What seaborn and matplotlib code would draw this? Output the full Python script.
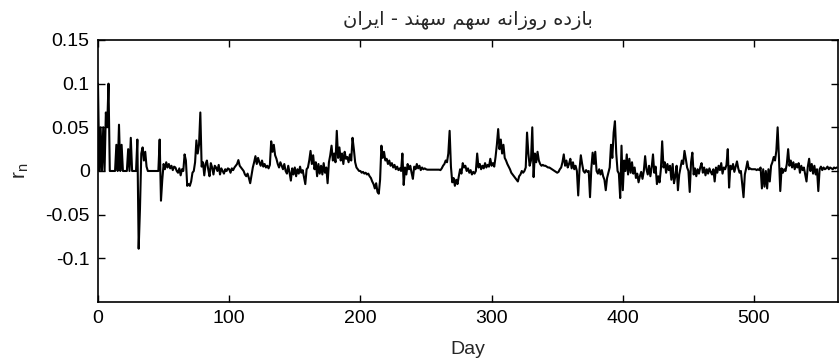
import numpy as np
import pandas as pd
import seaborn as sns
import matplotlib
matplotlib.use("Agg")
import matplotlib.pyplot as plt

# daily returns r_n, 10 days per row
r_000_099 = [
    0.1, 0.0, 0.05, 0.0, 0.05, 0.0, 0.067, 0.05, 0.1, 0.0,
    0.0, 0.0, 0.0, 0.0, 0.03, 0.0, 0.053, 0.0, 0.03, 0.0,
    0.0, 0.0, 0.0, 0.025, 0.0, 0.038, 0.0, 0.0, 0.0, 0.0,
    0.036, -0.089, -0.043, 0.02, 0.027, 0.012, 0.022, 0.005, 0.0, 0.0,
    0.0, 0.0, 0.0, 0.0, 0.0, 0.0, 0.0, 0.036, -0.034, -0.01,
    0.008, 0.002, 0.01, 0.004, 0.008, 0.003, 0.006, 0.001, 0.005, 0.004,
    0.0, -0.002, 0.003, -0.005, 0.002, 0.0, 0.019, 0.012, -0.017, -0.015,
    -0.017, -0.012, -0.002, 0.0, 0.01, 0.035, 0.02, 0.03, 0.067, 0.005,
    0.01, -0.005, 0.008, 0.012, 0.002, -0.006, 0.009, 0.004, -0.004, 0.006,
    0.004, 0.0, 0.007, -0.004, 0.003, 0.0, -0.003, 0.002, 0.0, 0.003,
]
r_100_199 = [
    0.002, -0.002, 0.003, 0.001, 0.004, 0.006, 0.008, 0.0125, 0.006, 0.004,
    0.002, 0.0, -0.004, -0.006, -0.003, -0.008, -0.014, -0.005, 0.004, 0.01,
    0.017, 0.008, 0.015, 0.01, 0.006, 0.012, 0.005, 0.008, 0.004, 0.006,
    0.003, 0.007, 0.034, 0.022, 0.03, 0.018, 0.014, 0.008, 0.004, 0.01,
    0.006, 0.002, 0.008, 0.0, -0.003, 0.006, -0.002, -0.011, 0.003, -0.004,
    0.004, -0.006, 0.002, -0.003, 0.005, -0.002, 0.001, -0.007, -0.015, 0.002,
    0.004, 0.012, 0.023, 0.008, 0.018, 0.002, 0.01, -0.006, 0.008, -0.003,
    0.006, -0.004, 0.009, -0.002, 0.004, -0.014, 0.01, 0.018, 0.029, 0.012,
    0.02, 0.01, 0.046, 0.015, 0.027, 0.012, 0.02, 0.008, 0.022, 0.014,
    0.016, 0.01, 0.019, 0.012, 0.038, 0.025, 0.01, 0.004, 0.002, 0.0,
]
r_200_299 = [
    0.0, -0.002, -0.001, -0.003, -0.002, -0.004, -0.003, -0.006, -0.008, -0.012,
    -0.015, -0.02, -0.014, -0.024, -0.026, -0.01, 0.029, 0.015, 0.022, 0.012,
    0.014, 0.008, 0.012, 0.006, 0.009, 0.004, 0.007, 0.002, 0.005, 0.001,
    0.003, 0.0, 0.02, -0.016, 0.004, -0.004, 0.008, 0.002, 0.006, -0.002,
    -0.009, 0.005, 0.002, 0.008, 0.003, 0.006, 0.001, 0.004, 0.002, 0.003,
    0.002, 0.0015, 0.0015, 0.0015, 0.0015, 0.0015, 0.0015, 0.0015, 0.0015, 0.0015,
    0.0015, 0.001, 0.003, 0.006, 0.008, 0.012, 0.01, 0.02, 0.046, 0.005,
    -0.013, -0.008, -0.017, -0.01, -0.015, -0.006, 0.002, -0.003, 0.009, 0.004,
    0.006, 0.0, 0.003, -0.002, 0.001, -0.004, -0.001, -0.003, 0.0, 0.02,
    0.004, 0.008, 0.002, 0.006, 0.003, 0.009, 0.004, 0.007, 0.005, 0.014,
]
r_300_399 = [
    0.006, 0.009, 0.005, 0.016, 0.03, 0.048, 0.025, 0.036, 0.02, 0.03,
    0.015, 0.012, 0.008, 0.005, 0.002, -0.002, -0.004, -0.006, -0.008, -0.01,
    -0.012, -0.006, -0.004, 0.0, -0.002, 0.0, 0.004, 0.044, 0.02, 0.006,
    0.012, 0.05, -0.007, 0.02, 0.01, 0.022, 0.012, 0.008, 0.006, 0.007,
    0.006, 0.006, 0.005, 0.004, 0.004, 0.003, 0.002, 0.001, 0.0, -0.001,
    -0.002, -0.001, 0.002, 0.004, 0.01, 0.019, 0.006, 0.012, 0.004, 0.008,
    0.014, 0.003, 0.01, 0.002, 0.006, 0.0, -0.028, 0.002, 0.018, 0.008,
    0.0, -0.002, 0.001, -0.001, 0.0, -0.03, 0.003, 0.021, 0.008, 0.022,
    0.0, -0.003, 0.002, -0.004, 0.001, -0.006, -0.01, -0.022, -0.008, -0.002,
    0.004, 0.03, 0.015, 0.044, 0.057, 0.02, 0.0, -0.003, -0.031, 0.029,
]
r_400_499 = [
    -0.022, 0.012, 0.0, 0.019, -0.004, 0.014, -0.002, 0.01, -0.003, 0.004,
    -0.008, -0.003, -0.013, -0.006, -0.001, -0.009, 0.0, 0.017, 0.002, -0.004,
    0.006, -0.006, 0.004, 0.019, -0.002, 0.005, -0.015, -0.006, -0.013, 0.002,
    0.034, 0.004, 0.01, -0.002, 0.008, 0.001, 0.006, -0.01, 0.008, -0.014,
    -0.006, 0.006, -0.022, -0.004, 0.004, 0.012, 0.008, 0.023, 0.014, 0.004,
    0.0, -0.024, 0.01, 0.021, -0.004, 0.003, -0.006, 0.002, -0.003, 0.004,
    0.009, -0.002, 0.004, -0.005, 0.002, -0.003, 0.003, -0.001, -0.004, 0.002,
    -0.012, 0.004, -0.002, 0.006, 0.001, 0.009, -0.003, 0.004, 0.002, 0.007,
    0.025, -0.019, 0.006, 0.002, 0.008, -0.001, 0.005, 0.011, 0.003, -0.002,
    0.0, -0.015, -0.03, -0.004, 0.003, 0.011, 0.002, 0.003, 0.002, 0.002,
]
r_500_563 = [
    0.002, 0.002, 0.001, 0.002, 0.001, 0.004, -0.02, 0.002, -0.018, 0.0,
    -0.02, 0.002, -0.012, 0.006, 0.01, 0.016, 0.012, 0.023, 0.05, 0.015,
    -0.023, 0.003, -0.002, 0.002, 0.0, 0.008, 0.025, 0.006, 0.012, 0.004,
    0.01, 0.002, 0.008, 0.004, 0.009, -0.002, 0.006, 0.001, 0.004, -0.004,
    -0.012, 0.005, 0.014, 0.0, 0.008, -0.003, 0.006, -0.004, 0.002, -0.023,
    0.002, 0.005, 0.001, 0.004, 0.002, 0.003, 0.005, 0.002, 0.004, 0.003,
    0.002, 0.004, 0.003, 0.004,
]

y_ticks = [-0.1, -0.05, 0, 0.05, 0.1, 0.15]
x_ticks = [0, 100, 200, 300, 400, 500]
title_fa = "بازده روزانه سهم سهند - ایران"

returns = r_000_099 + r_100_199 + r_200_299 + r_300_399 + r_400_499 + r_500_563
df = pd.DataFrame({"Day": np.arange(len(returns)), "rn": returns})

# matplotlib has no arabic shaping, so pick the joined forms by hand
FORMS = {  # iso, fin, ini, med
    "ب": ("\ufe8f", "\ufe90", "\ufe91", "\ufe92"),
    "ه": ("\ufee9", "\ufeea", "\ufeeb", "\ufeec"),
    "ن": ("\ufee5", "\ufee6", "\ufee7", "\ufee8"),
    "س": ("\ufeb1", "\ufeb2", "\ufeb3", "\ufeb4"),
    "م": ("\ufee1", "\ufee2", "\ufee3", "\ufee4"),
    "ی": ("\ufbfc", "\ufbfd", "\ufbfe", "\ufbff"),
    "ا": ("\ufe8d", "\ufe8e"),
    "ز": ("\ufeaf", "\ufeb0"),
    "د": ("\ufea9", "\ufeaa"),
    "ر": ("\ufead", "\ufeae"),
    "و": ("\ufeed", "\ufeee"),
}


def shape_fa(text):
    out = []
    for i, ch in enumerate(text):
        if ch not in FORMS:
            out.append(ch)
            continue
        prev = text[i - 1] if i > 0 else ""
        nxt = text[i + 1] if i + 1 < len(text) else ""
        join_prev = prev in FORMS and len(FORMS[prev]) == 4
        join_next = len(FORMS[ch]) == 4 and nxt in FORMS
        if join_prev and join_next:
            out.append(FORMS[ch][3])
        elif join_prev:
            out.append(FORMS[ch][1])
        elif join_next:
            out.append(FORMS[ch][2])
        else:
            out.append(FORMS[ch][0])
    return "".join(out)[::-1]


sns.set_style("ticks", {"xtick.direction": "in", "ytick.direction": "in"})
plt.rcParams["font.family"] = ["Liberation Sans", "DejaVu Sans"]

fig = plt.figure(figsize=(8.39, 3.59), dpi=100)
ax = fig.add_axes([0.1168, 0.1588, 0.882, 0.7298])
sns.lineplot(data=df, x="Day", y="rn", color="black", linewidth=1.5,
             estimator=None, ax=ax)

ax.set_xlim(0, 564)
ax.set_ylim(-0.15, 0.15)
ax.set_xticks(x_ticks)
ax.set_yticks(y_ticks)
ax.set_yticklabels([f"{t:g}" for t in y_ticks])
ax.tick_params(top=True, right=True, length=5, width=1, labelsize=14,
               colors="black", pad=6)
for s in ax.spines.values():
    s.set_visible(True)
    s.set_linewidth(1.2)
    s.set_color("black")

ax.set_xlabel("Day", fontsize=14, labelpad=10)
ax.set_ylabel(r"$\mathregular{r_n}$", fontsize=15, labelpad=10)
ax.set_title(shape_fa(title_fa), fontsize=14, pad=11, family=["DejaVu Sans"])

fig.savefig("out.png", dpi=100)
